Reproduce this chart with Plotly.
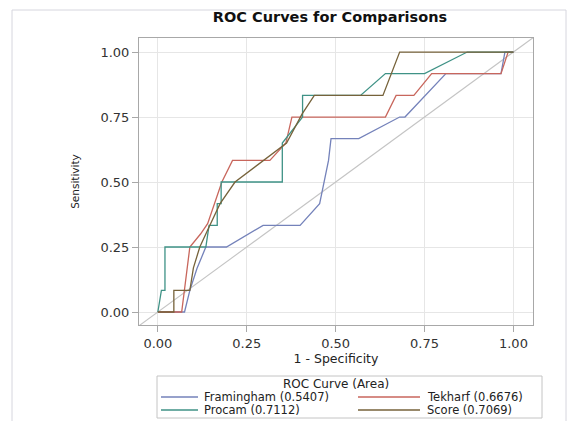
import plotly.graph_objects as go

# ---------------- data ----------------
title_text = "ROC Curves for Comparisons"
x_title = "1 - Specificity"
y_title = "Sensitivity"
legend_title = "ROC Curve (Area)"
tick_vals = [0.0, 0.25, 0.5, 0.75, 1.0]
tick_text = ["0.00", "0.25", "0.50", "0.75", "1.00"]

names = ["Framingham (0.5407)", "Tekharf (0.6676)", "Procam (0.7112)", "Score (0.7069)"]

fram_x = [0, 0.075, 0.09, 0.11, 0.135, 0.193, 0.296, 0.40, 0.455, 0.48, 0.487, 0.565, 0.68, 0.695, 0.81, 0.965, 0.976, 1.0]
fram_y = [0, 0, 0.083, 0.167, 0.25, 0.25, 0.333, 0.333, 0.417, 0.583, 0.667, 0.667, 0.75, 0.75, 0.917, 0.917, 1.0, 1.0]

tek_x = [0, 0.067, 0.09, 0.12, 0.14, 0.16, 0.18, 0.21, 0.315, 0.36, 0.377, 0.64, 0.67, 0.72, 0.77, 0.965, 0.985, 1.0]
tek_y = [0, 0, 0.25, 0.30, 0.34, 0.417, 0.5, 0.583, 0.583, 0.65, 0.75, 0.75, 0.833, 0.833, 0.917, 0.917, 1.0, 1.0]

pro_x = [0, 0.01, 0.02, 0.02, 0.135, 0.144, 0.167, 0.167, 0.178, 0.178, 0.35, 0.35, 0.407, 0.407, 0.57, 0.64, 0.75, 0.87, 1.0]
pro_y = [0, 0.083, 0.083, 0.25, 0.25, 0.333, 0.333, 0.417, 0.417, 0.5, 0.5, 0.65, 0.75, 0.833, 0.833, 0.917, 0.917, 1.0, 1.0]

sc_x = [0, 0.045, 0.045, 0.09, 0.10, 0.118, 0.146, 0.175, 0.217, 0.362, 0.405, 0.44, 0.633, 0.68, 1.0]
sc_y = [0, 0, 0.083, 0.083, 0.17, 0.25, 0.333, 0.417, 0.5, 0.65, 0.76, 0.833, 0.833, 1.0, 1.0]

diag = [-0.1, 1.1]

series_x = [fram_x, tek_x, pro_x, sc_x]
series_y = [fram_y, tek_y, pro_y, sc_y]
colors = ["#7482BA", "#C8665C", "#3F9286", "#76623A"]

FONT = "DejaVu Sans"

# plot-area geometry in pixels (used to place the custom legend)
W, H = 579, 421
L, R, T, B = 139, 46, 38, 96
PW, PH = W - L - R, H - T - B


def px(xp):
    return (xp - L) / PW


def py(yp):
    return (H - B - yp) / PH


fig = go.Figure()
fig.add_trace(go.Scatter(x=diag, y=diag, mode="lines", line=dict(color="#C4C4C4", width=1.1),
                         showlegend=False, hoverinfo="skip"))
for nm, xs, ys, c in zip(names, series_x, series_y, colors):
    fig.add_trace(go.Scatter(x=xs, y=ys, mode="lines", name=nm, showlegend=False,
                             line=dict(color=c, width=1.3)))

axis_common = dict(
    tickvals=tick_vals, ticktext=tick_text, showgrid=True, gridcolor="#E6E6E6", gridwidth=1,
    showline=True, linecolor="#A8A8A8", linewidth=1, mirror=True, ticks="outside", ticklen=6,
    tickcolor="#A8A8A8", zeroline=False, tickfont=dict(family=FONT, size=13, color="#333333"),
)

# custom legend (2 columns, row-major like the original)
shapes = [
    dict(type="rect", xref="paper", yref="paper", x0=px(12), x1=px(566), y0=-0.5, y1=py(10),
         line=dict(color="#D6D6DE", width=1), layer="below"),
    dict(type="rect", xref="paper", yref="paper", x0=px(157), x1=px(542), y0=py(418), y1=py(376),
         line=dict(color="#C4C4C4", width=1), fillcolor="rgba(0,0,0,0)"),
]
annotations = [
    dict(text=legend_title, xref="paper", yref="paper", x=px(336), y=py(384), xanchor="center",
         yanchor="middle", showarrow=False, font=dict(family=FONT, size=12, color="#222222")),
]
col_line = [(161, 198), (358, 420)]
col_text = [202, 425]
row_y = [397, 410]
for i, (nm, c) in enumerate(zip(names, colors)):
    r, k = divmod(i, 2)
    shapes.append(dict(type="line", xref="paper", yref="paper", x0=px(col_line[k][0]), x1=px(col_line[k][1]),
                       y0=py(row_y[r]), y1=py(row_y[r]), line=dict(color=c, width=1.3)))
    annotations.append(dict(text=nm, xref="paper", yref="paper", x=px(col_text[k]), y=py(row_y[r]),
                            xanchor="left", yanchor="middle", showarrow=False,
                            font=dict(family=FONT, size=11.5, color="#222222")))

fig.update_layout(
    width=W, height=H,
    margin=dict(l=L, r=R, t=T, b=B),
    paper_bgcolor="white", plot_bgcolor="white",
    font=dict(family=FONT, color="#222222"),
    showlegend=False,
    title=dict(text="<b>" + title_text + "</b>", x=px(330), xref="paper", y=1 - 17 / 421, yref="container",
               xanchor="center", yanchor="middle", font=dict(family=FONT, size=14.5, color="#111111")),
    xaxis=dict(range=[-0.053, 1.055], title=dict(text=x_title, font=dict(family=FONT, size=12.5, color="#222222"), standoff=1),
               **axis_common),
    yaxis=dict(range=[-0.05, 1.054], title=dict(text=y_title, font=dict(family=FONT, size=10.5, color="#222222"), standoff=18),
               **axis_common),
    shapes=shapes,
    annotations=annotations,
)

fig.write_html("out.html")
